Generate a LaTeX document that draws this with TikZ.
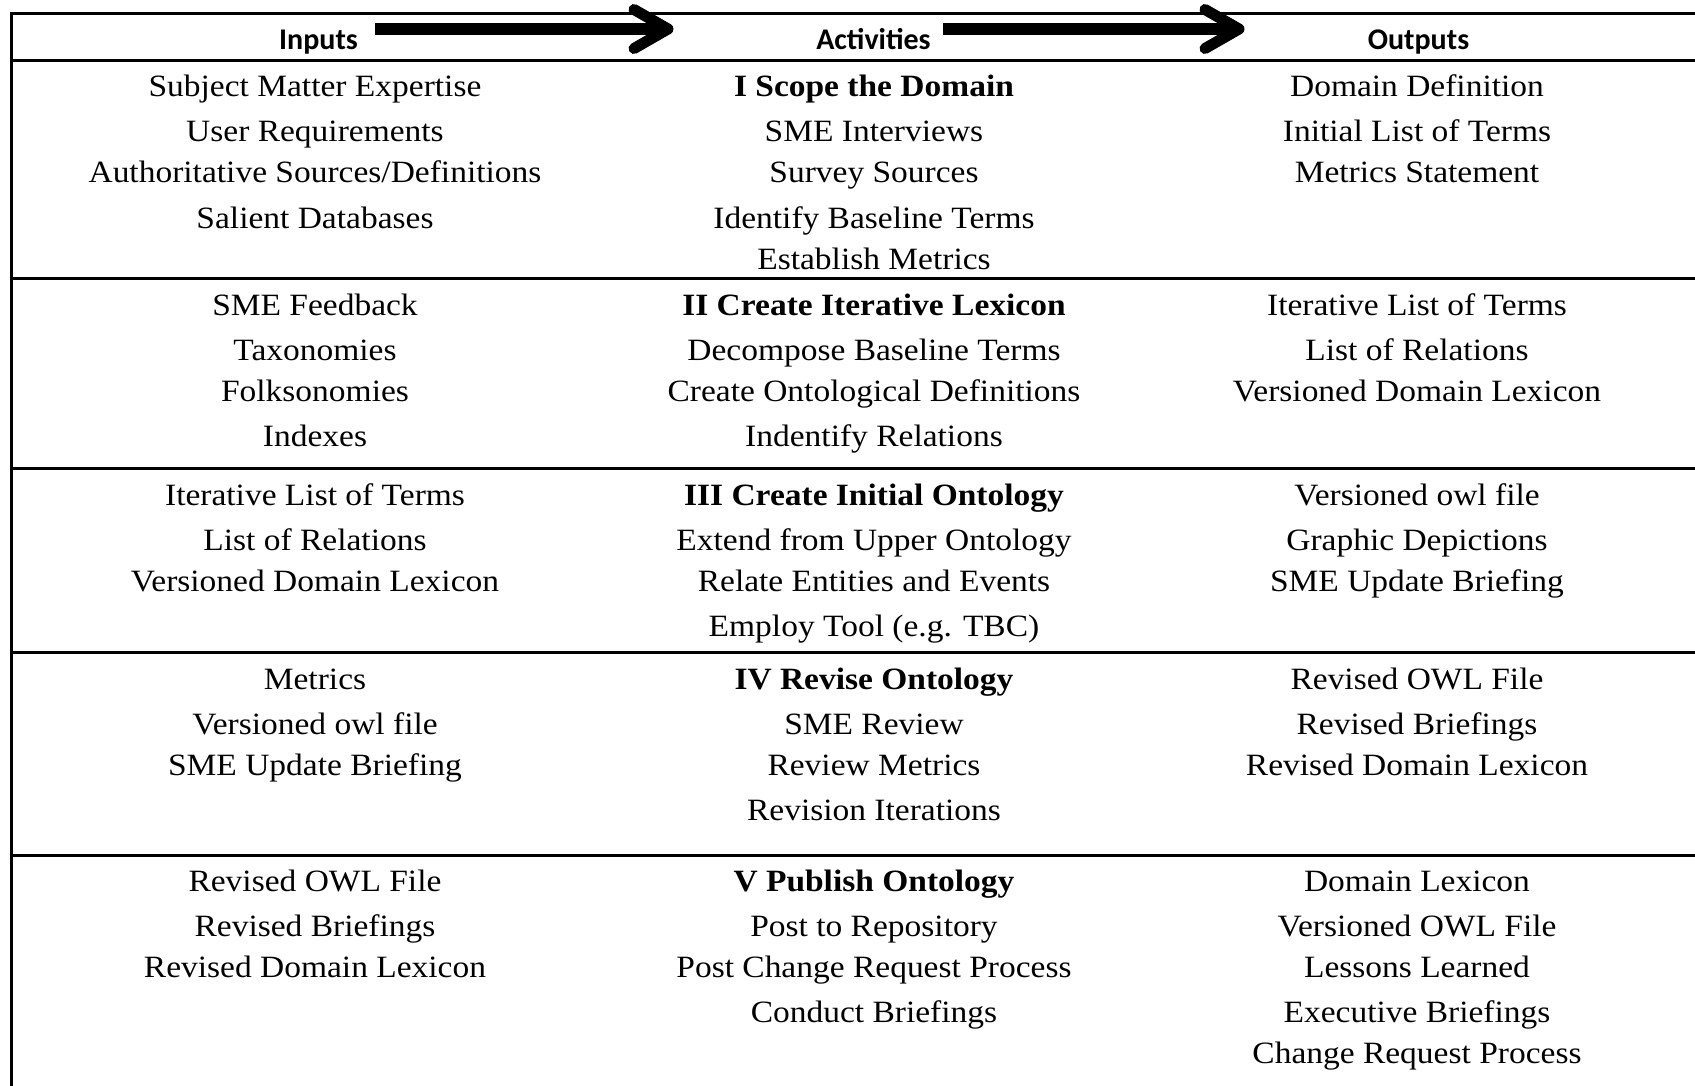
\documentclass[tikz,border=0pt]{standalone}
\usepackage{fontspec}
\setmainfont{Liberation Serif}[FakeStretch=1.08]
\newfontfamily\hdrfont{Carlito}
\begin{document}
\begin{tikzpicture}[x=1pt,y=-1pt,
  rule/.style={line width=3pt},
  hdr/.style={font=\hdrfont\bfseries\fontsize{30}{36}\selectfont, anchor=base, inner sep=0pt},
  txt/.style={font=\fontsize{31}{37}\selectfont, anchor=base, inner sep=0pt},
  shaft/.style={line width=11.5pt},
  barb/.style={line width=11pt, line cap=round, line join=round}]
\newcommand{\mkcell}[4]{%
  \foreach \t [count=\i] in {#4} {
    \pgfmathsetmacro\dy{{0,45,86.3,131.6,172.6}[\i-1]}
    \node[txt] (#1-\i) at (#2, #3+\dy) {\t};
  }}
\useasboundingbox (0,0) rectangle (1695,1086);
\fill[white] (0,0) rectangle (1695,1086);
% frame and rules
\draw[rule, line join=miter] (11,1086) -- (11,13.3) -- (1695,13.3);
\foreach \yy in {61,278.5,468,652,855} \draw[rule] (11,\yy) -- (1695,\yy);
% headers
\node[hdr] (hIn)  at (318.5,50)  {Inputs};
\node[hdr] (hAct) at (873.5,50)  {Activities};
\node[hdr] (hOut) at (1418.5,50) {Outputs};
% arrows
\coordinate (a1s) at (375,29);  \coordinate (a1e) at (663,29);  \coordinate (a1t) at (668,29);
\coordinate (a2s) at (943,29);  \coordinate (a2e) at (1234,29); \coordinate (a2t) at (1239,29);
\draw[shaft] (a1s) -- (a1e);
\draw[barb] ([shift={(-34,-19.5)}]a1t) -- (a1t) -- ([shift={(-34,19.5)}]a1t);
\draw[shaft] (a2s) -- (a2e);
\draw[barb] ([shift={(-34,-19.5)}]a2t) -- (a2t) -- ([shift={(-34,19.5)}]a2t);
% row 1
\mkcell{r1in}{315}{96.7}{Subject Matter Expertise, User Requirements, Authoritative Sources/Definitions, Salient Databases}
\mkcell{r1act}{874}{96.7}{\textbf{I Scope the Domain}, SME Interviews, Survey Sources, Identify Baseline Terms, Establish Metrics}
\mkcell{r1out}{1417}{96.7}{Domain Definition, Initial List of Terms, Metrics Statement}
% row 2
\mkcell{r2in}{315}{315}{SME Feedback, Taxonomies, Folksonomies, Indexes}
\mkcell{r2act}{874}{315}{\textbf{II Create Iterative Lexicon}, Decompose Baseline Terms, Create Ontological Definitions, Indentify Relations}
\mkcell{r2out}{1417}{315}{Iterative List of Terms, List of Relations, Versioned Domain Lexicon}
% row 3
\mkcell{r3in}{315}{505}{Iterative List of Terms, List of Relations, Versioned Domain Lexicon}
\mkcell{r3act}{874}{505}{\textbf{III Create Initial Ontology}, Extend from Upper Ontology, Relate Entities and Events, Employ Tool (e.g. TBC)}
\mkcell{r3out}{1417}{505}{Versioned owl file, Graphic Depictions, SME Update Briefing}
% row 4
\mkcell{r4in}{315}{689}{Metrics, Versioned owl file, SME Update Briefing}
\mkcell{r4act}{874}{689}{\textbf{IV Revise Ontology}, SME Review, Review Metrics, Revision Iterations}
\mkcell{r4out}{1417}{689}{Revised OWL File, Revised Briefings, Revised Domain Lexicon}
% row 5
\mkcell{r5in}{315}{891}{Revised OWL File, Revised Briefings, Revised Domain Lexicon}
\mkcell{r5act}{874}{891}{\textbf{V Publish Ontology}, Post to Repository, Post Change Request Process, Conduct Briefings}
\mkcell{r5out}{1417}{891}{Domain Lexicon, Versioned OWL File, Lessons Learned, Executive Briefings, Change Request Process}
\end{tikzpicture}
\end{document}
